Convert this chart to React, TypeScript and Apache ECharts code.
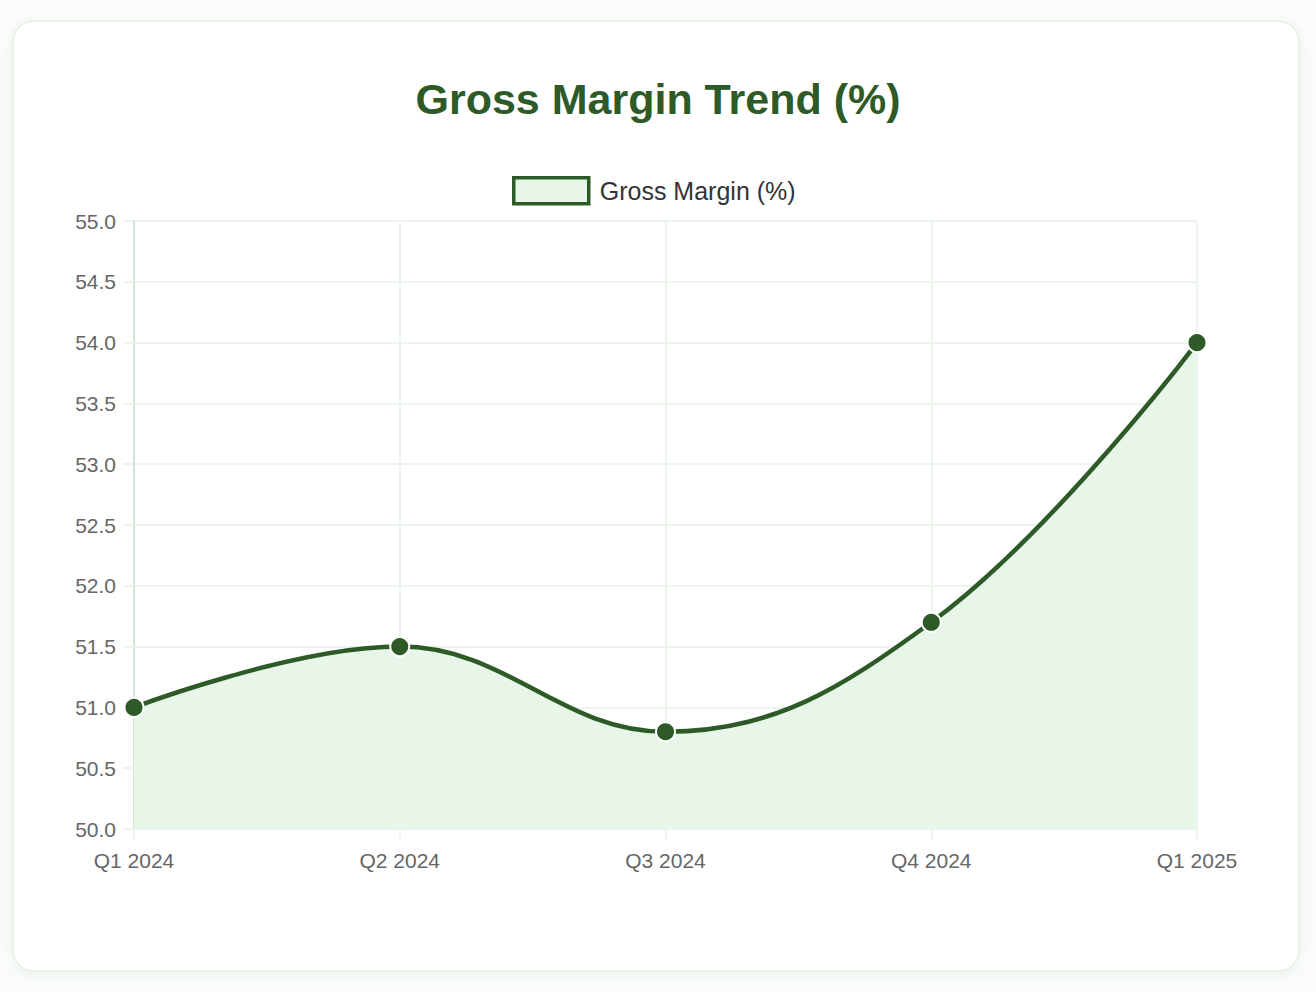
import React, { useEffect, useRef } from "react";
import * as echarts from "echarts";

const categories = ["Q1 2024", "Q2 2024", "Q3 2024", "Q4 2024", "Q1 2025"];
const grossMargin = [51.0, 51.5, 50.8, 51.7, 54.0];
const seriesName = "Gross Margin (%)";
const titleText = "Gross Margin Trend (%)";

const DARK = "#2d5a27";
const LIGHT = "#e8f5e9";
const GRID = "#ebf5ec";
const FONT = "'Liberation Sans', Arial, Helvetica, sans-serif";

export default function App() {
  const ref = useRef<HTMLDivElement>(null);
  useEffect(() => {
    if (!ref.current) return;
    const chart = echarts.init(ref.current, null, { renderer: "svg" });
    chart.setOption({
      animation: false,
      backgroundColor: "transparent",
      title: {
        text: titleText,
        left: "center",
        top: 72,
        textStyle: { color: DARK, fontSize: 43, fontWeight: "bold", fontFamily: FONT },
      },
      legend: {
        data: [seriesName],
        top: 171,
        left: 512,
        padding: [5, 0, 5, 0],
        icon: "rect",
        itemWidth: 75,
        itemHeight: 26,
        itemStyle: { color: LIGHT, borderColor: DARK, borderWidth: 3.5 },
        textStyle: { color: "#333", fontSize: 25, fontFamily: FONT, padding: [0, 0, 0, 6] },
      },
      grid: { left: 134, right: 119, top: 221, bottom: 163, containLabel: false },
      xAxis: {
        type: "category",
        data: categories,
        boundaryGap: false,
        axisLine: { show: true, lineStyle: { color: GRID, width: 2 } },
        axisTick: { show: true, length: 10, lineStyle: { color: GRID, width: 2 } },
        axisLabel: { color: "#666", fontSize: 21, fontFamily: FONT, margin: 21 },
        splitLine: { show: true, lineStyle: { color: GRID, width: 2 } },
      },
      yAxis: {
        type: "value",
        min: 50,
        max: 55,
        interval: 0.5,
        axisLine: { show: true, lineStyle: { color: "#d2e2d6", width: 2 } },
        axisTick: { show: true, length: 10, lineStyle: { color: GRID, width: 2 } },
        axisLabel: {
          color: "#666",
          fontSize: 21,
          fontFamily: FONT,
          margin: 18,
          formatter: (v: number) => v.toFixed(1),
        },
        splitLine: { show: true, lineStyle: { color: GRID, width: 2 } },
      },
      series: [
        {
          name: seriesName,
          type: "line",
          data: grossMargin,
          smooth: 0.4,
          symbol: "circle",
          symbolSize: 19,
          lineStyle: { color: DARK, width: 4.5 },
          itemStyle: { color: DARK, borderColor: "#fff", borderWidth: 2 },
          areaStyle: { color: LIGHT, opacity: 1 },
          z: 3,
        },
      ],
    });
    return () => chart.dispose();
  }, []);

  return (
    <div style={{ position: "fixed", left: 0, top: 0, width: 1316, height: 992, background: "#fbfdfb" }}>
      <div
        style={{
          position: "absolute",
          left: 12,
          top: 20,
          width: 1288,
          height: 952,
          boxSizing: "border-box",
          border: "2px solid #e6f3e7",
          borderRadius: 22,
          background: "#fff",
          boxShadow: "0 4px 18px rgba(46,94,42,0.07)",
        }}
      />
      <div ref={ref} style={{ position: "absolute", left: 0, top: 0, width: 1316, height: 992 }} />
    </div>
  );
}
